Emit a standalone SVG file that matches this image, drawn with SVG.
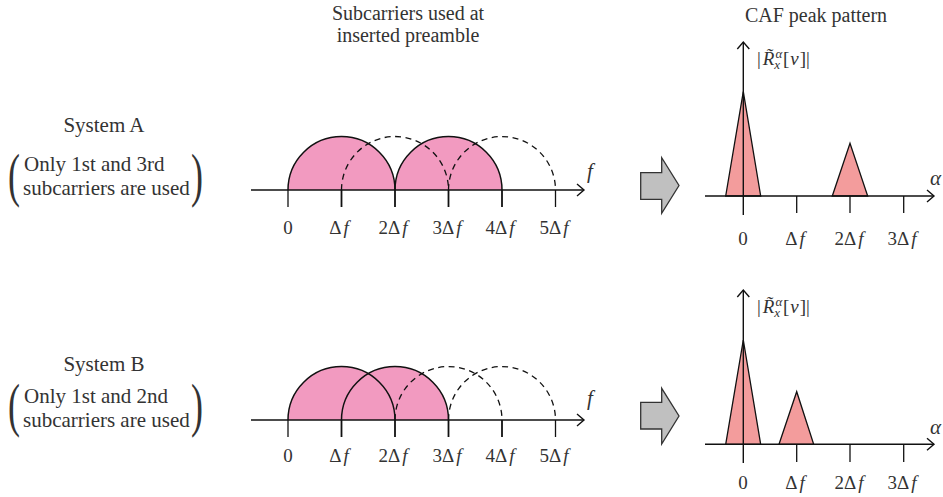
<svg xmlns="http://www.w3.org/2000/svg" width="943" height="497" viewBox="0 0 943 497">
<defs>
<style>
.t{font-family:"Liberation Serif","Times New Roman",serif;font-size:21px;fill:#333}
.ttl{font-family:"Liberation Serif","Times New Roman",serif;font-size:20px;fill:#333;text-anchor:middle}
.lab{font-family:"Liberation Serif","Times New Roman",serif;font-size:19px;fill:#333;text-anchor:middle}
.rl{font-family:"Liberation Serif","DejaVu Serif",serif;font-size:19px;fill:#333}
.it{font-style:italic}
.par{font-family:"Liberation Serif","Times New Roman",serif;font-size:60px;fill:#333}
.ax{stroke:#111;stroke-width:1.4;fill:none}
.tk{stroke:#111;stroke-width:1.8}
.tn{stroke:#111;stroke-width:1.3}
.fillP{fill:#F29AC0;stroke:none}
.solid{fill:none;stroke:#111;stroke-width:1.5}
.dash{fill:none;stroke:#111;stroke-width:1.3;stroke-dasharray:6 4.5}
.tri{fill:#F39C9C;stroke:#111;stroke-width:1.3;stroke-linejoin:miter}
.blk{fill:#C0C0C0;stroke:#333;stroke-width:1.3}
</style>
<marker id="arr" markerWidth="12" markerHeight="14" refX="8" refY="7" orient="auto" markerUnits="userSpaceOnUse">
<path d="M1,1 L8,7 L1,13" fill="none" stroke="#111" stroke-width="1.4"/>
</marker>
</defs>

<g id="titles">
<text class="ttl" x="408" y="20">Subcarriers used at</text>
<text class="ttl" x="408" y="42">inserted preamble</text>
<text class="ttl" x="816" y="22">CAF peak pattern</text>
</g>

<g id="systemA-label">
<text class="t" x="104" y="132" text-anchor="middle">System A</text>
<text class="par" transform="translate(8,195) scale(0.6,1)">(</text>
<text class="t" x="24" y="171">Only 1st and 3rd</text>
<text class="t" x="23" y="195">subcarriers are used</text>
<text class="par" transform="translate(191,195) scale(0.6,1)">)</text>
</g>

<g id="systemB-label">
<text class="t" x="104" y="371" text-anchor="middle">System B</text>
<text class="par" transform="translate(8,425) scale(0.6,1)">(</text>
<text class="t" x="24" y="403">Only 1st and 2nd</text>
<text class="t" x="23" y="427">subcarriers are used</text>
<text class="par" transform="translate(191,425) scale(0.6,1)">)</text>
</g>

<g id="spectrumA">
<path class="fillP" d="M288,190 A53.5,53.5 0 0 1 395,190 Z"/>
<path class="fillP" d="M395,190 A53.5,53.5 0 0 1 502,190 Z"/>
<path class="dash" d="M341.5,190 A53.5,53.5 0 0 1 448.5,190"/>
<path class="dash" d="M448.5,190 A53.5,53.5 0 0 1 555.5,190"/>
<path class="solid" d="M288,190 A53.5,53.5 0 0 1 395,190"/>
<path class="solid" d="M395,190 A53.5,53.5 0 0 1 502,190"/>
<line class="ax" x1="251" y1="190" x2="584" y2="190" marker-end="url(#arr)"/>
<line class="tn" x1="288" y1="190" x2="288" y2="207"/>
<line class="tk" x1="341.5" y1="190" x2="341.5" y2="207"/>
<line class="tk" x1="395" y1="190" x2="395" y2="207"/>
<line class="tk" x1="448.5" y1="190" x2="448.5" y2="207"/>
<line class="tk" x1="502" y1="190" x2="502" y2="207"/>
<line class="tn" x1="555.5" y1="190" x2="555.5" y2="207"/>
<text class="t it" x="587" y="178">f</text>
<text class="lab" x="288" y="234">0</text>
<text class="lab" x="339" y="234">Δ<tspan class="it" dx="2">f</tspan></text>
<text class="lab" x="393" y="234">2Δ<tspan class="it" dx="2">f</tspan></text>
<text class="lab" x="447" y="234">3Δ<tspan class="it" dx="2">f</tspan></text>
<text class="lab" x="500" y="234">4Δ<tspan class="it" dx="2">f</tspan></text>
<text class="lab" x="554" y="234">5Δ<tspan class="it" dx="2">f</tspan></text>
</g>

<g id="spectrumB">
<path class="fillP" d="M288,420 A53.5,53.5 0 0 1 395,420 Z"/>
<path class="fillP" d="M341.5,420 A53.5,53.5 0 0 1 448.5,420 Z"/>
<path class="dash" d="M395,420 A53.5,53.5 0 0 1 502,420"/>
<path class="dash" d="M448.5,420 A53.5,53.5 0 0 1 555.5,420"/>
<path class="solid" d="M288,420 A53.5,53.5 0 0 1 395,420"/>
<path class="solid" d="M341.5,420 A53.5,53.5 0 0 1 448.5,420"/>
<line class="ax" x1="251" y1="420" x2="584" y2="420" marker-end="url(#arr)"/>
<line class="tn" x1="288" y1="420" x2="288" y2="437"/>
<line class="tk" x1="341.5" y1="420" x2="341.5" y2="437"/>
<line class="tk" x1="395" y1="420" x2="395" y2="437"/>
<line class="tk" x1="448.5" y1="420" x2="448.5" y2="437"/>
<line class="tk" x1="502" y1="420" x2="502" y2="437"/>
<line class="tn" x1="555.5" y1="420" x2="555.5" y2="437"/>
<text class="t it" x="587" y="405">f</text>
<text class="lab" x="288" y="462">0</text>
<text class="lab" x="339" y="462">Δ<tspan class="it" dx="2">f</tspan></text>
<text class="lab" x="393" y="462">2Δ<tspan class="it" dx="2">f</tspan></text>
<text class="lab" x="447" y="462">3Δ<tspan class="it" dx="2">f</tspan></text>
<text class="lab" x="500" y="462">4Δ<tspan class="it" dx="2">f</tspan></text>
<text class="lab" x="554" y="462">5Δ<tspan class="it" dx="2">f</tspan></text>
</g>

<g id="arrowA">
<polygon class="blk" points="640.7,172.7 661.7,172.7 661.7,157.7 679,185.5 661.7,213.3 661.7,199.3 640.7,199.3"/>
</g>
<g id="arrowB">
<polygon class="blk" points="640.7,402.3 661.7,402.3 661.7,388.3 679,416 661.7,444 661.7,429 640.7,429"/>
</g>

<g id="cafA">
<polygon class="tri" points="725.7,196 743.3,91.7 760.7,196"/>
<polygon class="tri" points="832.3,196 850,143.3 867.7,196"/>
<line class="ax" x1="705" y1="196" x2="934" y2="196" marker-end="url(#arr)"/>
<line class="ax" x1="743.3" y1="215" x2="743.3" y2="42" marker-end="url(#arr)"/>
<line class="tn" x1="796.7" y1="196" x2="796.7" y2="213"/>
<line class="tn" x1="850" y1="196" x2="850" y2="213"/>
<line class="tn" x1="903.7" y1="196" x2="903.7" y2="213"/>
<text class="t it" x="930" y="185">α</text>
<text class="rl" x="757" y="65">|<tspan class="it" dx="2">R̃</tspan><tspan class="it" font-size="13" dx="1" dy="-7">α</tspan><tspan class="it" font-size="13" dx="-8" dy="11">x</tspan><tspan dx="3" dy="-4">[</tspan><tspan class="it" dx="1">ν</tspan><tspan dx="1">]|</tspan></text>
<text class="lab" x="743" y="245">0</text>
<text class="lab" x="795" y="245">Δ<tspan class="it" dx="2">f</tspan></text>
<text class="lab" x="849" y="245">2Δ<tspan class="it" dx="2">f</tspan></text>
<text class="lab" x="902" y="245">3Δ<tspan class="it" dx="2">f</tspan></text>
</g>

<g id="cafB">
<polygon class="tri" points="725.7,444.3 743.3,340 760.7,444.3"/>
<polygon class="tri" points="779,444.3 796.7,391.7 813.7,444.3"/>
<line class="ax" x1="705" y1="444.3" x2="934" y2="444.3" marker-end="url(#arr)"/>
<line class="ax" x1="743.3" y1="463" x2="743.3" y2="290" marker-end="url(#arr)"/>
<line class="tn" x1="796.7" y1="444.3" x2="796.7" y2="462"/>
<line class="tn" x1="850" y1="444.3" x2="850" y2="462"/>
<line class="tn" x1="903.7" y1="444.3" x2="903.7" y2="462"/>
<text class="t it" x="930" y="434">α</text>
<text class="rl" x="757" y="313">|<tspan class="it" dx="2">R̃</tspan><tspan class="it" font-size="13" dx="1" dy="-7">α</tspan><tspan class="it" font-size="13" dx="-8" dy="11">x</tspan><tspan dx="3" dy="-4">[</tspan><tspan class="it" dx="1">ν</tspan><tspan dx="1">]|</tspan></text>
<text class="lab" x="743" y="489">0</text>
<text class="lab" x="795" y="489">Δ<tspan class="it" dx="2">f</tspan></text>
<text class="lab" x="849" y="489">2Δ<tspan class="it" dx="2">f</tspan></text>
<text class="lab" x="902" y="489">3Δ<tspan class="it" dx="2">f</tspan></text>
</g>
</svg>
